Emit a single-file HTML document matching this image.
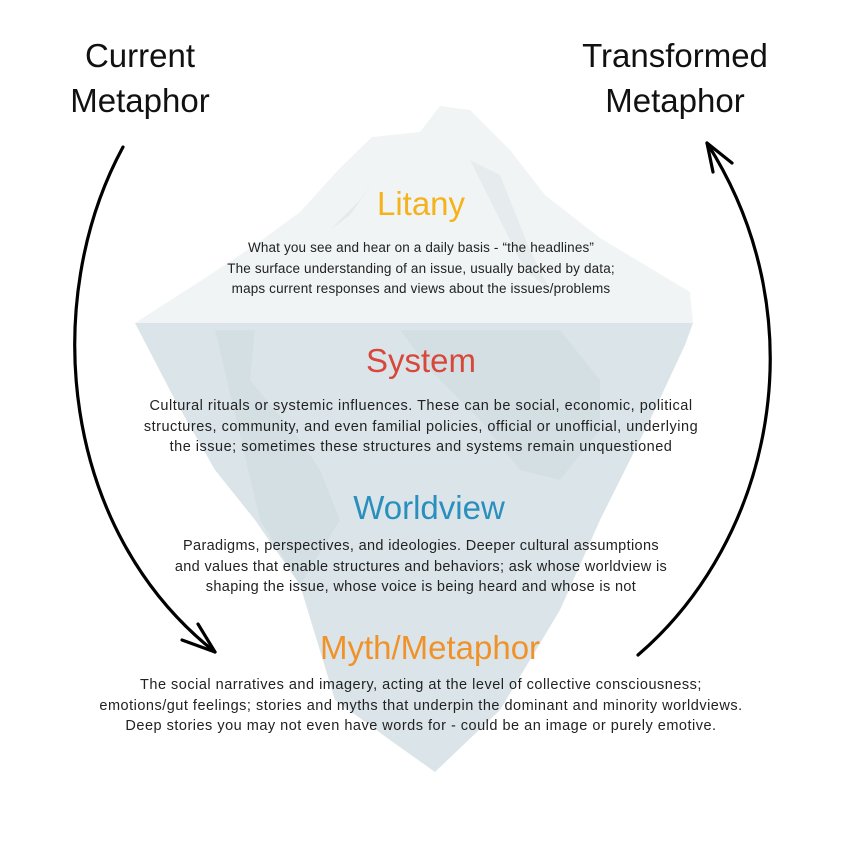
<!DOCTYPE html>
<html><head><meta charset="utf-8"><style>
html,body{margin:0;padding:0;background:#fff;}
body{width:842px;height:842px;position:relative;overflow:hidden;font-family:"Liberation Sans",sans-serif;}
.t{position:absolute;text-align:center;white-space:nowrap;color:#222;}
.h{font-size:33px;}
.p{font-size:13.5px;line-height:20.5px;letter-spacing:0.15px;}
.b{font-size:14.5px;line-height:20.5px;letter-spacing:0.5px;}
</style></head><body>
<svg width="842" height="842" style="position:absolute;left:0;top:0">
<polygon points="135,323 205,278 255,245 300,212 340,168 372,137 420,132 440,106 470,110 510,150 545,195 600,238 650,268 690,292 693,323" fill="#f1f4f4"/>
<polygon points="330,230 360,200 375,180 350,215" fill="#e3eaec"/>
<polygon points="470,160 500,175 530,250 550,290 525,270 495,210" fill="#e6ecee"/>
<polygon points="135,323 693,323 685,345 650,420 600,520 560,610 500,710 435,772 390,740 335,700 300,585 255,520 215,470 175,400" fill="#dbe5e9"/>
<polygon points="215,330 255,330 250,380 300,440 320,470 340,520 300,585 260,520" fill="#d4dfe4"/>
<polygon points="400,330 560,330 600,380 600,430 560,480 520,470 480,420 430,370" fill="#d4dfe4"/>
<path d="M123,147 C40,300 60,530 215,652" fill="none" stroke="#000" stroke-width="3.2" stroke-linecap="round"/>
<path d="M215,652 L182,640 M215,652 L198,624" fill="none" stroke="#000" stroke-width="3.2" stroke-linecap="round"/>
<path d="M638,655 C772,540 820,320 707,143" fill="none" stroke="#000" stroke-width="3.2" stroke-linecap="round"/>
<path d="M707,143 L713,172 M707,143 L732,163" fill="none" stroke="#000" stroke-width="3.2" stroke-linecap="round"/>
</svg>
<div class="t" style="left:40px;width:200px;top:33px;font-size:33px;line-height:45px;color:#111">Current<br>Metaphor</div>
<div class="t" style="left:560px;width:230px;top:33px;font-size:33px;line-height:45px;color:#111">Transformed<br>Metaphor</div>
<div class="t h" style="left:0;width:842px;top:185px;color:#f4b21c">Litany</div>
<div class="t p" style="left:0;width:842px;top:238px">What you see and hear on a daily basis - “the headlines”<br>The surface understanding of an issue, usually backed by data;<br>maps current responses and views about the issues/problems</div>
<div class="t h" style="left:0;width:842px;top:342px;color:#d8483a">System</div>
<div class="t b" style="left:0;width:842px;top:396px">Cultural rituals or systemic influences. These can be social, economic, political<br>structures, community, and even familial policies, official or unofficial, underlying<br>the issue; sometimes these structures and systems remain unquestioned</div>
<div class="t h" style="left:8px;width:842px;top:489px;color:#2a8fbd">Worldview</div>
<div class="t b" style="left:0;width:842px;top:536px;letter-spacing:0.35px">Paradigms, perspectives, and ideologies. Deeper cultural assumptions<br>and values that enable structures and behaviors; ask whose worldview is<br>shaping the issue, whose voice is being heard and whose is not</div>
<div class="t h" style="left:9px;width:842px;top:629px;color:#f0922a">Myth/Metaphor</div>
<div class="t b" style="left:0;width:842px;top:675px">The social narratives and imagery, acting at the level of collective consciousness;<br>emotions/gut feelings; stories and myths that underpin the dominant and minority worldviews.<br>Deep stories you may not even have words for - could be an image or purely emotive.</div>
</body></html>
